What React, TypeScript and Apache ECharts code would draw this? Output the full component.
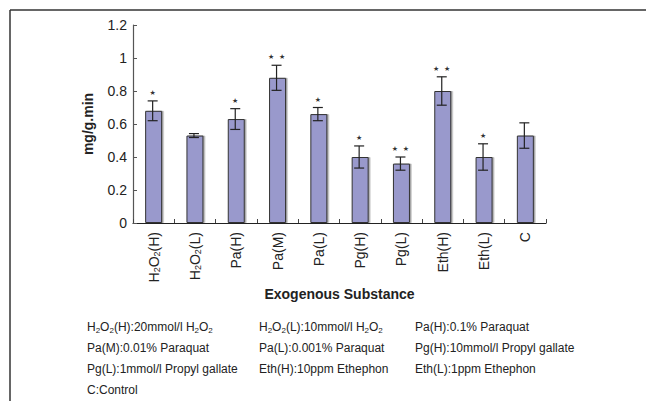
import React, { useEffect, useRef } from "react";
import * as echarts from "echarts";

const categories = ["H2O2(H)", "H2O2(L)", "Pa(H)", "Pa(M)", "Pa(L)", "Pg(H)", "Pg(L)", "Eth(H)", "Eth(L)", "C"];
const categoryRich = [
  "{n|H}{s|2}{n|O}{s|2}{n|(H)}",
  "{n|H}{s|2}{n|O}{s|2}{n|(L)}",
  "{n|Pa(H)}",
  "{n|Pa(M)}",
  "{n|Pa(L)}",
  "{n|Pg(H)}",
  "{n|Pg(L)}",
  "{n|Eth(H)}",
  "{n|Eth(L)}",
  "{n|C}",
];
const values = [0.68, 0.53, 0.63, 0.88, 0.66, 0.4, 0.36, 0.8, 0.4, 0.53];
const errors = [0.06, 0.012, 0.063, 0.076, 0.04, 0.067, 0.04, 0.086, 0.08, 0.077];
const stars = [1, 0, 1, 2, 1, 1, 2, 2, 1, 0];
const yTicks = { min: 0, max: 1.2, interval: 0.2 };
const footnotes = [
  ["{n|H}{s|2}{n|O}{s|2}{n|(H):20mmol/l H}{s|2}{n|O}{s|2}", "{n|H}{s|2}{n|O}{s|2}{n|(L):10mmol/l H}{s|2}{n|O}{s|2}", "{n|Pa(H):0.1% Paraquat}"],
  ["{n|Pa(M):0.01% Paraquat}", "{n|Pa(L):0.001% Paraquat}", "{n|Pg(H):10mmol/l Propyl gallate}"],
  ["{n|Pg(L):1mmol/l Propyl gallate}", "{n|Eth(H):10ppm Ethephon}", "{n|Eth(L):1ppm Ethephon}"],
  ["{n|C:Control}"],
];

const FONT = "'Liberation Sans', Arial, sans-serif";

export default function App() {
  const ref = useRef<HTMLDivElement>(null);
  useEffect(() => {
    document.body.style.margin = "0";
    if (!ref.current) return;
    const chart = echarts.init(ref.current, null, { renderer: "svg" });
    const colX = [87, 259, 415];
    const rowY = [327, 348, 369, 390];
    const footGraphics: any[] = [];
    footnotes.forEach((row, r) => {
      row.forEach((t, c) => {
        footGraphics.push({
          type: "text",
          x: colX[c],
          y: rowY[r],
          style: {
            text: t,
            verticalAlign: "middle",
            align: "left",
            rich: {
              n: { fontSize: 12, fontFamily: FONT, fill: "#222", lineHeight: 14 },
              s: { fontSize: 8, fontFamily: FONT, fill: "#222", lineHeight: 6, verticalAlign: "bottom" },
            },
          },
        });
      });
    });
    const option: any = {
      animation: false,
      backgroundColor: "#fff",
      grid: { left: 133, right: 100, top: 25, bottom: 178, containLabel: false },
      xAxis: {
        type: "category",
        data: categories,
        name: "Exogenous Substance",
        nameLocation: "middle",
        nameGap: 64,
        nameTextStyle: { fontSize: 14, fontWeight: "bold", fontFamily: FONT, color: "#222", verticalAlign: "top" },
        axisLine: { show: true, lineStyle: { color: "#222", width: 1.2 } },
        axisTick: { show: true, inside: true, length: 4, lineStyle: { color: "#444" } },
        axisLabel: {
          rotate: 90,
          margin: 9,
          interval: 0,
          formatter: (_v: string, i: number) => categoryRich[i],
          rich: {
            n: { fontSize: 14, fontFamily: FONT, color: "#222", lineHeight: 16 },
            s: { fontSize: 9, fontFamily: FONT, color: "#222", lineHeight: 8, verticalAlign: "bottom" },
          },
        },
        splitLine: { show: false },
      },
      yAxis: {
        type: "value",
        min: yTicks.min,
        max: yTicks.max,
        interval: yTicks.interval,
        name: "mg/g.min",
        nameLocation: "middle",
        nameGap: 38,
        nameTextStyle: { fontSize: 14, fontWeight: "bold", fontFamily: FONT, color: "#222" },
        axisLine: { show: true, lineStyle: { color: "#555", width: 1.2 } },
        axisTick: { show: true, inside: true, length: 4, lineStyle: { color: "#555" } },
        axisLabel: { fontSize: 14, fontFamily: FONT, color: "#222", margin: 6 },
        splitLine: { show: false },
      },
      graphic: [
        { type: "line", shape: { x1: 10, y1: 10, x2: 646, y2: 10 }, style: { stroke: "#333", lineWidth: 1.5 } },
        { type: "line", shape: { x1: 10, y1: 10, x2: 10, y2: 401 }, style: { stroke: "#333", lineWidth: 1.5 } },
        ...footGraphics,
      ],
      series: [
        {
          type: "bar",
          data: values,
          barWidth: 17,
          itemStyle: {
            color: "#9999cc",
            borderColor: "#333",
            borderWidth: 1,
            shadowColor: "rgba(0,0,0,0.35)",
            shadowOffsetX: 1.5,
            shadowBlur: 0,
          },
        },
        {
          type: "custom",
          data: values.map((v, i) => [i, v - errors[i], v + errors[i], stars[i]]),
          renderItem: (params: any, api: any) => {
            const i = api.value(0);
            const lo = api.coord([i, api.value(1)]);
            const hi = api.coord([i, api.value(2)]);
            const x = lo[0] - 1;
            const cap = 5;
            const children: any[] = [
              { type: "line", shape: { x1: x, y1: lo[1], x2: x, y2: hi[1] }, style: { stroke: "#222", lineWidth: 1.2 } },
              { type: "line", shape: { x1: x - cap, y1: lo[1], x2: x + cap, y2: lo[1] }, style: { stroke: "#222", lineWidth: 1.2 } },
              { type: "line", shape: { x1: x - cap, y1: hi[1], x2: x + cap, y2: hi[1] }, style: { stroke: "#222", lineWidth: 1.2 } },
            ];
            const n = api.value(3);
            const offs = n === 1 ? [0] : n === 2 ? [-5.5, 5.5] : [];
            offs.forEach((o) => {
              children.push({
                type: "text",
                x: x + o,
                y: hi[1] - 8,
                style: {
                  text: "★",
                  fill: "#333",
                  fontSize: 7,
                  fontFamily: "DejaVu Sans",
                  align: "center",
                  verticalAlign: "middle",
                },
              });
            });
            return { type: "group", children };
          },
          z: 5,
        },
      ],
    };
    chart.setOption(option);
    return () => chart.dispose();
  }, []);
  return <div ref={ref} style={{ width: 646, height: 401 }} />;
}
